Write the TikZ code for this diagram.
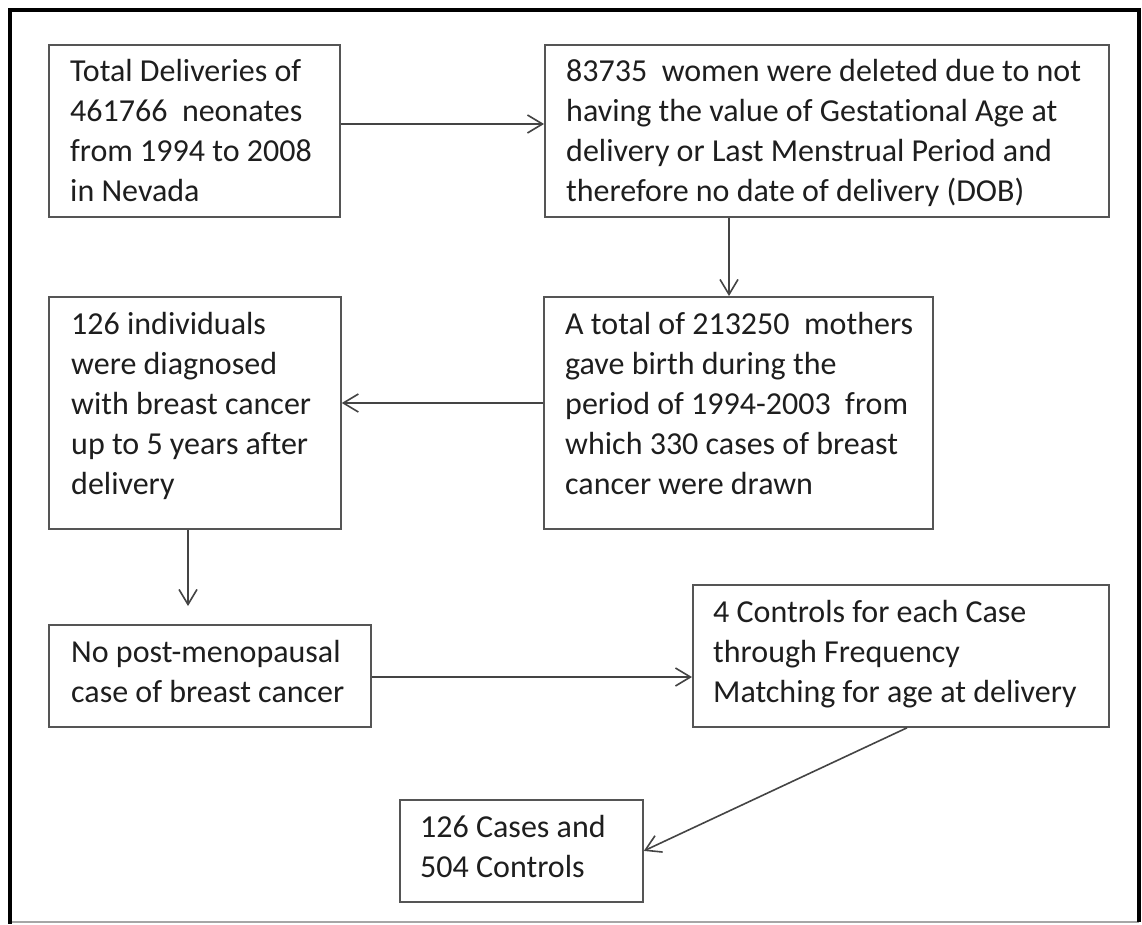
\documentclass[tikz,border=0pt]{standalone}
\usepackage{fontspec}
\setmainfont{Carlito}[Ligatures={NoCommon}]
\usetikzlibrary{arrows.meta}
\definecolor{boxline}{HTML}{555555}
\definecolor{arrline}{HTML}{444444}
\definecolor{txtcol}{HTML}{1E1E1E}
\tikzset{
  flowbox/.style={draw=boxline, line width=1.8pt, fill=white, rectangle, inner sep=0pt, anchor=north west},
  flowtext/.style={anchor=base west, inner sep=0pt, text=txtcol, font=\fontsize{32}{40}\selectfont},
  flowarr/.style={draw=arrline, line width=1.6pt, -{Straight Barb[length=15pt,width=18pt,line width=1.6pt]}},
}
\newcommand{\boxlines}[2]{\parbox[t]{#1pt}{\raggedright\fontsize{32}{40}\selectfont #2}}
\begin{document}
\begin{tikzpicture}[x=1pt,y=-1pt]
\useasboundingbox (0,0) rectangle (1142,925);
\fill[white] (0,0) rectangle (1142,925);
% outer frame
\coordinate (ftl) at (10,10);
\coordinate (ftr) at (1139,10);
\coordinate (fbr) at (1139,922);
\coordinate (fbl) at (10,922);
\draw[line width=2pt, draw=gray!70] (fbl) -- (fbr);
\draw[line width=3.5pt, black] (ftr) -- (fbr);
\draw[line width=4.5pt, black, line cap=rect] (fbl) -- (ftl) -- (ftr);

% boxes
\node[flowbox, minimum width=291pt, minimum height=172pt] (b1) at (48,44) {};
\node[flowbox, minimum width=564pt, minimum height=172pt] (b2) at (544,44) {};
\node[flowbox, minimum width=389pt, minimum height=232pt] (b3) at (543,296) {};
\node[flowbox, minimum width=292pt, minimum height=232pt] (b4) at (48,296) {};
\node[flowbox, minimum width=322pt, minimum height=102pt] (b5) at (48,624) {};
\node[flowbox, minimum width=416pt, minimum height=142pt] (b6) at (692,584) {};
\node[flowbox, minimum width=243pt, minimum height=102pt] (b7) at (399,799) {};

% texts
\node[flowtext] (t1) at (70,82) {\boxlines{280}{Total Deliveries of\\461766\ \ neonates\\from 1994 to 2008\\in Nevada}};
\node[flowtext] (t2) at (566,82) {\boxlines{560}{83735\ \ women were deleted due to not\\having the value of Gestational Age at\\delivery or Last Menstrual Period and\\therefore no date of delivery (DOB)}};
\node[flowtext] (t3) at (565,334) {\boxlines{380}{A total of 213250\ \ mothers\\gave birth during the\\period of 1994-2003\ \ from\\which 330 cases of breast\\cancer were drawn}};
\node[flowtext] (t4) at (71,334) {\boxlines{280}{126 individuals\\were diagnosed\\with breast cancer\\up to 5 years after\\delivery}};
\node[flowtext] (t5) at (71,662) {\boxlines{310}{No post-menopausal\\case of breast cancer}};
\node[flowtext] (t6) at (713,622) {\boxlines{400}{4 Controls for each Case\\through Frequency\\Matching for age at delivery}};
\node[flowtext] (t7) at (420,837) {\boxlines{230}{126 Cases and\\504 Controls}};

% connector helper coordinates
\coordinate (y1) at (0,124);
\coordinate (x2) at (729,0);
\coordinate (y3) at (0,403);
\coordinate (x4) at (188,0);
\coordinate (a4end) at (188,606);
\coordinate (y5) at (0,677);
\coordinate (x6) at (907,0);

% connectors
\draw[flowarr] (b1.east |- y1) -- (b2.west |- y1);
\draw[flowarr] (b2.south -| x2) -- (b3.north -| x2);
\draw[flowarr] (b3.west |- y3) -- (b4.east |- y3);
\draw[flowarr] (b4.south -| x4) -- (a4end);
\draw[flowarr] (b5.east |- y5) -- (b6.west |- y5);
\draw[flowarr] (b6.south -| x6) -- (b7.east);
\end{tikzpicture}
\end{document}
